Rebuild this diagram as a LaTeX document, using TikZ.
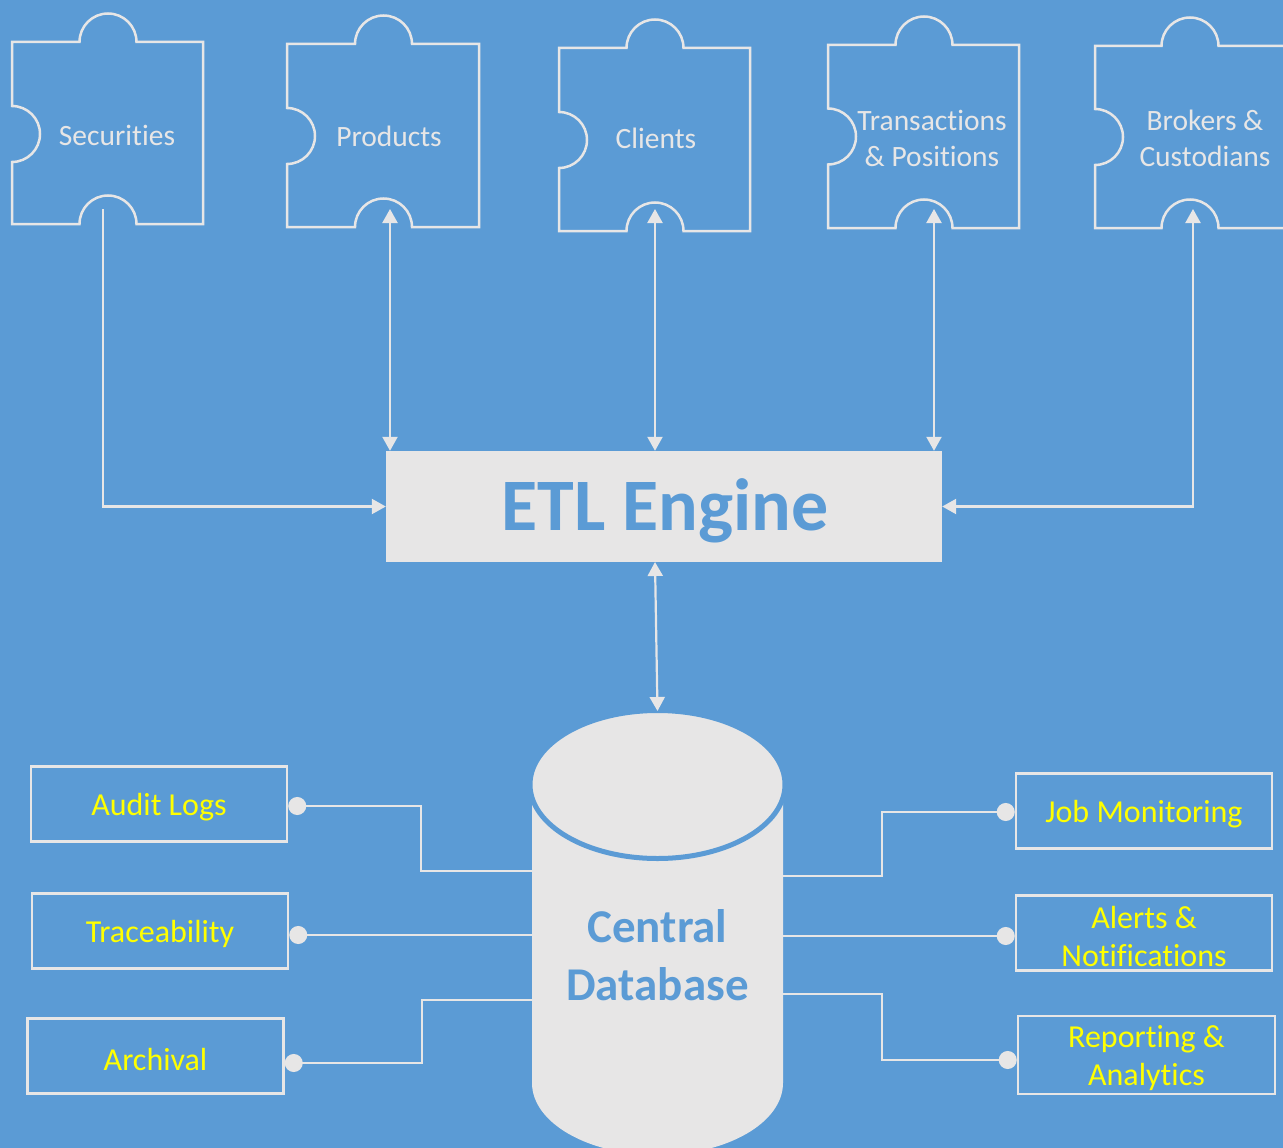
\documentclass[tikz,border=0pt]{standalone}
\usepackage{fontspec}
\setmainfont{Carlito}[RawFeature={-liga;-clig;-calt;-rlig;-dlig}]
\usetikzlibrary{arrows.meta,calc}
\definecolor{bg}{HTML}{5B9BD5}
\definecolor{lightg}{HTML}{E7E6E6}
\definecolor{yel}{HTML}{FFFF00}
\newcommand\puzzlepiece[6]{% L R T B tabx notchy
  \draw[piece] (#1,-#3) -- (#5-28.5,-#3) arc (180:0:28.5) -- (#2,-#3) -- (#2,-#4)
    -- (#5+28.5,-#4) arc (0:180:28.5) -- (#1,-#4) -- (#1,-#6-28) arc (-90:90:28) -- cycle;}
\tikzset{
  piece/.style={draw=lightg,line width=2.5pt},
  ptext/.style={text=lightg,font=\fontsize{29.5}{36}\selectfont,align=center,inner sep=0pt},
  conn/.style={draw=lightg,line width=2.2pt},
  >={Triangle[width=15pt,length=14pt]},
  sbox/.style={draw=lightg,line width=2.5pt,minimum width=256pt,minimum height=75pt,
    text=yel,font=\fontsize{32}{38}\selectfont,align=center,inner sep=0pt},
  dotconn/.style={conn,{Circle[length=18pt,width=18pt]}-},
}
\begin{document}
\begin{tikzpicture}[x=1pt,y=1pt]
\useasboundingbox (0,0) rectangle (1283,-1148);
\clip (0,0) rectangle (1283,-1148);
\fill[bg] (0,0) rectangle (1283,-1148);
% puzzle pieces
\puzzlepiece{12}{203}{42}{224}{108}{134}
\puzzlepiece{287}{479}{44}{227}{383.5}{136}
\puzzlepiece{559}{750}{48}{231}{655}{140}
\puzzlepiece{828}{1019}{45}{228}{924}{136.5}
\puzzlepiece{1095}{1310}{46}{228}{1190}{137}
\node[ptext] (sec) at (117,-135) {Securities};
\node[ptext] (prod) at (389,-136) {Products};
\node[ptext] (cli) at (656,-138) {Clients};
\node[ptext] (trans) at (932,-138) {Transactions\\\& Positions};
\node[ptext] (brk) at (1205,-138) {Brokers \&\\Custodians};
\coordinate (secA) at (103,-209);
\coordinate (prodA) at (390,-209);
\coordinate (cliA) at (655,-209);
\coordinate (transA) at (934,-209);
\coordinate (brkA) at (1193,-209);
% ETL engine
\node[fill=lightg,minimum width=556pt,minimum height=111pt,inner sep=0pt] (etl) at (664,-506.5) {};
\node[text=bg,font=\bfseries\fontsize{74}{80}\selectfont,inner sep=0pt] (etlt) at (665,-511) {ETL Engine};
\draw[conn,->] (secA) |- (etl.west);
\draw[conn,<->] (prodA) -- (prodA |- etl.north);
\draw[conn,<->] (cliA) -- (cliA |- etl.north);
\draw[conn,<->] (transA) -- (transA |- etl.north);
\draw[conn,<->] (brkA) |- (etl.east);
% database cylinder
\fill[lightg] (532,-786) -- (532,-1083) arc (180:360:125.5 and 72) -- (783,-786) -- cycle;
\filldraw[fill=lightg,draw=bg,line width=5pt] (657.5,-784.5) ellipse (127.5 and 74);
\node[text=bg,font=\bfseries\fontsize{47}{58}\selectfont,align=center,inner sep=0pt] (db) at (657.5,-955) {Central\\Database};
\coordinate (etlS) at (655,-562);
\coordinate (dbT) at (657.5,-711);
\draw[conn,<->] (etlS) -- (dbT);
\coordinate (cL1) at (532,-871);
\coordinate (cL2) at (532,-935);
\coordinate (cL3) at (532,-1000);
\coordinate (cR1) at (783,-876);
\coordinate (cR2) at (783,-936);
\coordinate (cR3) at (783,-994);
% side boxes
\node[sbox] (audit) at (159,-804) {};
\node[sbox] (trace) at (160,-931) {};
\node[sbox] (arch) at (155.5,-1056) {};
\node[sbox] (job) at (1144,-811) {};
\node[sbox] (alert) at (1144,-933) {};
\node[sbox,minimum width=257pt,minimum height=78pt] (rep) at (1146.5,-1055) {};
\node[sbox,draw=none] at (159,-807) {Audit Logs};
\node[sbox,draw=none] at (160,-934) {Traceability};
\node[sbox,draw=none] at (155.5,-1059) {Archival};
\node[sbox,draw=none] at (1144,-814) {Job Monitoring};
\node[sbox,draw=none] at (1144,-936) {Alerts \&\\Notifications};
\node[sbox,draw=none] at (1146.5,-1058) {Reporting \&\\Analytics};
\draw[dotconn] ([yshift=-2pt]audit.east) -- ++(133,0) |- (cL1);
\draw[dotconn] ([yshift=-4pt]trace.east) -- (cL2);
\draw[dotconn] ([yshift=-7pt]arch.east) -- ++(137,0) |- (cL3);
\draw[dotconn] ([yshift=-1pt]job.west) -- ++(-133,0) |- (cR1);
\draw[dotconn] ([yshift=-3pt]alert.west) -- (cR2);
\draw[dotconn] ([yshift=-5pt]rep.west) -- ++(-135,0) |- (cR3);
\end{tikzpicture}
\end{document}
